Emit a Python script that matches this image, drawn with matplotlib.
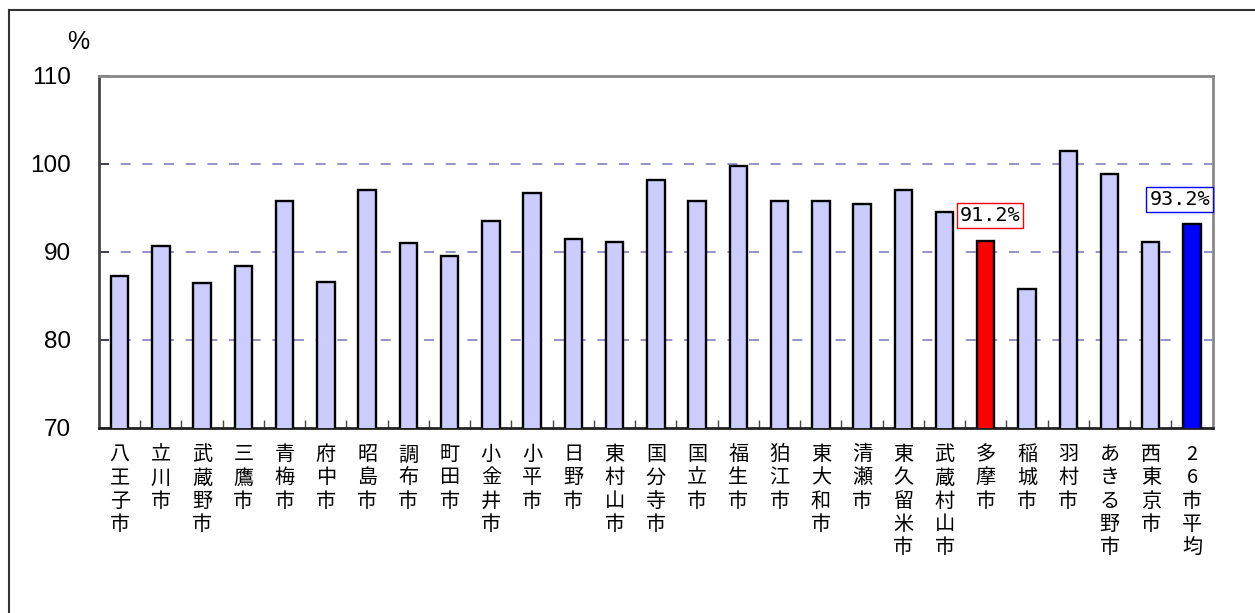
import matplotlib
matplotlib.use("Agg")
import matplotlib.pyplot as plt
from matplotlib.lines import Line2D

cities = ["八王子市", "立川市", "武蔵野市", "三鷹市", "青梅市", "府中市", "昭島市", "調布市",
          "町田市", "小金井市", "小平市", "日野市", "東村山市", "国分寺市", "国立市", "福生市",
          "狛江市", "東大和市", "清瀬市", "東久留米市", "武蔵村山市", "多摩市", "稲城市",
          "羽村市", "あきる野市", "西東京市", "26市平均"]
values = [87.2, 90.6, 86.4, 88.4, 95.8, 86.6, 97.0, 91.0,
          89.5, 93.5, 96.7, 91.4, 91.1, 98.2, 95.8, 99.7,
          95.8, 95.8, 95.4, 97.0, 94.5, 91.2, 85.8,
          101.4, 98.8, 91.1, 93.2]
highlight_tama = "多摩市"
highlight_avg = "26市平均"
yticks = [70, 80, 90, 100, 110]

W, H = 1255, 613
fig = plt.figure(figsize=(W / 100, H / 100), dpi=100)
ax = fig.add_axes([99 / W, (H - 427.7) / H, (1212.7 - 99) / W, (427.7 - 75.7) / H])

colors = []
for c in cities:
    if c == highlight_tama:
        colors.append("#FF0000")
    elif c == highlight_avg:
        colors.append("#0000FF")
    else:
        colors.append("#CCCCFF")

x = list(range(len(cities)))
ax.bar(x, values, width=0.42, color=colors, edgecolor="black", linewidth=1.7, zorder=3)

ax.set_ylim(70, 110)
ax.set_xlim(-0.5, len(cities) - 0.5)
ax.set_yticks(yticks)
ax.set_yticklabels([str(v) for v in yticks], family="Liberation Sans", fontsize=17.5)
for v in yticks[1:-1]:
    ax.axhline(v, color="#8080C0", linewidth=1.2, dashes=(6, 7), zorder=1)

ax.set_xticks(x)
ax.set_xticklabels(["\n".join(c) for c in cities], family=["Noto Sans CJK JP", "DejaVu Sans"],
                   fontsize=14.5, linespacing=1.13, va="top")
ax.tick_params(axis="x", length=0, pad=12)
ax.set_xticks([i + 0.5 for i in x[:-1]], minor=True)
ax.tick_params(axis="x", which="minor", direction="in", length=6, width=1, color="#444444")
ax.tick_params(axis="y", direction="in", length=7, width=1.2, pad=20, color="#333333")

for s in ["top", "right"]:
    ax.spines[s].set_color("#888888")
    ax.spines[s].set_linewidth(2)
ax.spines["left"].set_color("#444444")
ax.spines["left"].set_linewidth(2)
ax.spines["bottom"].set_color("#222222")
ax.spines["bottom"].set_linewidth(2)

i_t = cities.index(highlight_tama)
i_a = cities.index(highlight_avg)
ax.text(i_t + 0.1, 94.1, f"{values[i_t]:.1f}%", ha="center", va="center",
        family="DejaVu Sans Mono", fontsize=14.5, zorder=5,
        bbox=dict(boxstyle="square,pad=0.15", fc="white", ec="#FF0000", lw=1))
ax.text(i_a - 0.3, 95.9, f"{values[i_a]:.1f}%", ha="center", va="center",
        family="DejaVu Sans Mono", fontsize=14.5, zorder=5,
        bbox=dict(boxstyle="square,pad=0.15", fc="white", ec="#0000FF", lw=1))

fig.text(78 / W, 1 - 42 / H, "%", ha="center", va="center", family="Liberation Sans",
         fontsize=18)

# outer frame (left and top edges)
fig.add_artist(Line2D([9 / W, 9 / W], [0, 1 - 10 / H], transform=fig.transFigure,
                      color="#333333", lw=1.5))
fig.add_artist(Line2D([9 / W, 1], [1 - 10 / H, 1 - 10 / H], transform=fig.transFigure,
                      color="#333333", lw=1.5))

fig.savefig("out.png", dpi=100)
